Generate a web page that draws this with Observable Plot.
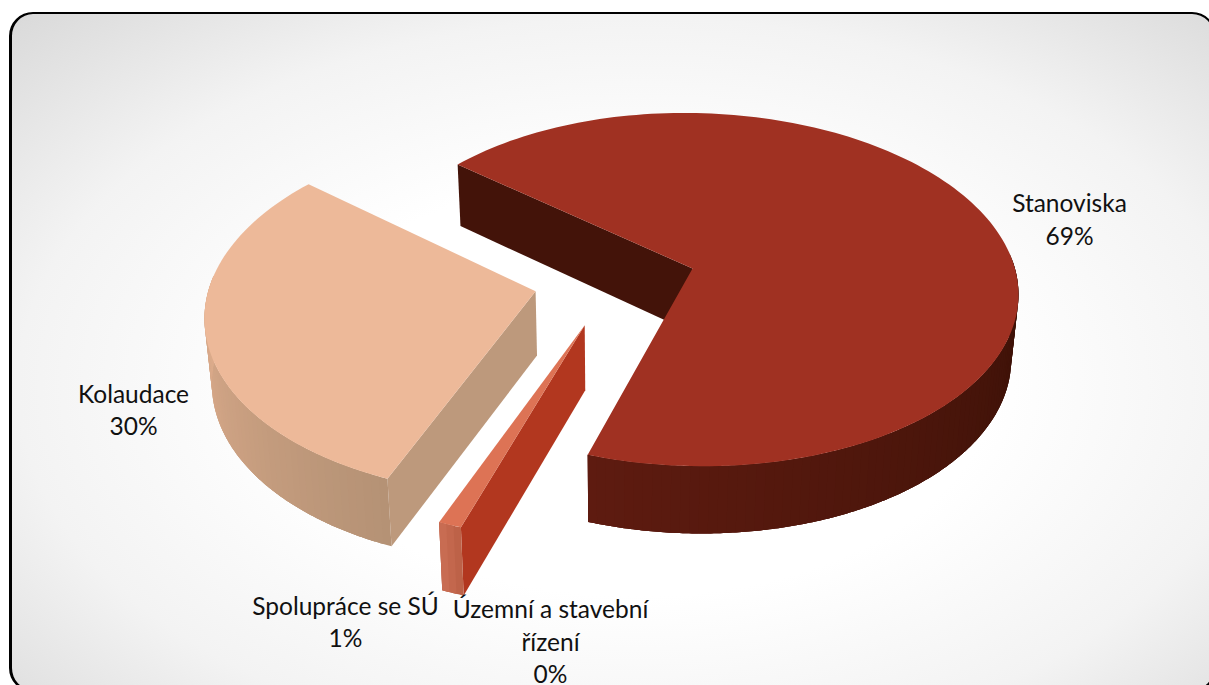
<!DOCTYPE html>
<html lang="cs">
<head>
<meta charset="utf-8">
<script src="https://cdn.jsdelivr.net/npm/d3@7"></script>
<script src="https://cdn.jsdelivr.net/npm/@observablehq/plot@0.6"></script>
<style>
  html, body { margin: 0; padding: 0; width: 1209px; height: 685px; overflow: hidden; background: #fff; }
  #panel {
    position: absolute; left: 9px; top: 12px; width: 1207px; height: 680px;
    box-sizing: border-box; border-style: solid; border-color: #000; border-width: 2px 2px 2px 3px;
    border-radius: 24px;
    background: radial-gradient(ellipse farthest-corner at 52% 55%, #ffffff 40%, #f3f3f3 70%, #d9d9d9 100%);
  }
  #chart { position: absolute; left: 0; top: 0; }
  #chart svg { display: block; }
</style>
</head>
<body>
<div id="panel"></div>
<div id="chart"></div>
<script>
// --- Data ---
const categories = ["Stanoviska", "Územní a stavební řízení", "Spolupráce se SÚ", "Kolaudace"];
const values = [69, 0, 1, 30];
const percentLabels = ["69%", "0%", "1%", "30%"];

// --- Styles per slice ---
const topColors = ["#a03122", "#dd7355", "#dd7355", "#edb999"];
const sideColors = ["#431309", "#b2371f", "#b2371f", "#bd997c"];
const rimColors = [["#5e1b10", "#381006"], ["#c86c52", "#bd6248"], ["#c86c52", "#bd6248"], ["#e0ae8e", "#b59275"]];
const labelLines = [["Stanoviska"], ["Územní a stavební", "řízení"], ["Spolupráce se SÚ"], ["Kolaudace"]];
const labelAt = [[1069, 217.5], [550, 639.5], [345, 620], [133, 408]];
const explodeBy = [0.25, 0.25, 0.262, 0.25];

// --- Perspective of the 3-D pie, in page units ---
const cx = 614.5, cy = 280, rx = 325, ry = 177, tilt = 0.12;
const firstAngle = 310, baseShrink = 0.982;
const rad = d => d * Math.PI / 180;

function project(u, v, below) {
  const s = 1 / (1 - tilt * v);
  let x = cx + rx * u * s;
  let y = cy + ry * v * s;
  if (below) {
    x = cx + (x - cx) * baseShrink;
    y += 64 + 3.5 * v;
  }
  return [x, y];
}

const arcs = d3.pie().sort(null)
  .startAngle(rad(firstAngle)).endAngle(rad(firstAngle + 360))(values);

const polygons = [];
let pid = 0;
function addPolygon(points, color) {
  pid++;
  for (const [x, y] of points) polygons.push({x, y, pid, color});
}

arcs.forEach((arc, i) => {
  if (arc.value === 0) return;
  const mid = (arc.startAngle + arc.endAngle) / 2;
  const ou = explodeBy[i] * Math.sin(mid), ov = -explodeBy[i] * Math.cos(mid);
  const rim = (a, below) => project(ou + Math.sin(a), ov - Math.cos(a), below);
  const apex = below => project(ou, ov, below);
  const sweep = (a0, a1, stepDeg) => {
    const n = Math.max(2, Math.ceil((a1 - a0) / rad(stepDeg)));
    return d3.range(n + 1).map(k => a0 + (a1 - a0) * k / n);
  };
  // visible flat side walls
  for (const [a, sign] of [[arc.startAngle, -1], [arc.endAngle, 1]]) {
    if (sign * Math.sin(a) > 0) {
      addPolygon([apex(false), rim(a, false), rim(a, true), apex(true)], sideColors[i]);
    }
  }
  // visible outer wall: each strip runs under the next, so no seam shows
  const a0 = Math.max(arc.startAngle, rad(445)), a1 = Math.min(arc.endAngle, rad(635));
  if (a1 > a0) {
    const shade = d3.interpolateRgb(rimColors[i][1], rimColors[i][0]);
    const steps = sweep(a0, a1, 1.5);
    steps.slice(0, -1).forEach((p, k) => {
      const stripe = sweep(p, steps[Math.min(k + 3, steps.length - 1)], 0.5);
      addPolygon([...stripe.map(a => rim(a, false)), ...stripe.reverse().map(a => rim(a, true))],
                 shade(k / (steps.length - 2 || 1)));
    });
  }
  // top face
  addPolygon([apex(false), ...sweep(arc.startAngle, arc.endAngle, 1.5).map(a => rim(a, false))], topColors[i]);
});

const labels = categories.map((c, i) => ({
  text: [...labelLines[i], percentLabels[i]].join("\n"),
  x: labelAt[i][0], y: labelAt[i][1]
}));

const chart = Plot.plot({
  width: 1209, height: 685, margin: 0,
  style: {background: "transparent"},
  x: {domain: [0, 1209], range: [0, 1209], axis: null},
  y: {domain: [0, 685], range: [0, 685], axis: null},
  color: {type: "identity"},
  marks: [
    Plot.line(polygons, {x: "x", y: "y", z: "pid", fill: "color", curve: "linear"}),
    Plot.text(labels, {x: "x", y: "y", text: "text", fontSize: 24.5, lineHeight: 1.34,
      fontFamily: "Lato, 'Open Sans', sans-serif", fill: "#111", textAnchor: "middle"})
  ]
});
document.getElementById("chart").appendChild(chart);
</script>
</body>
</html>
